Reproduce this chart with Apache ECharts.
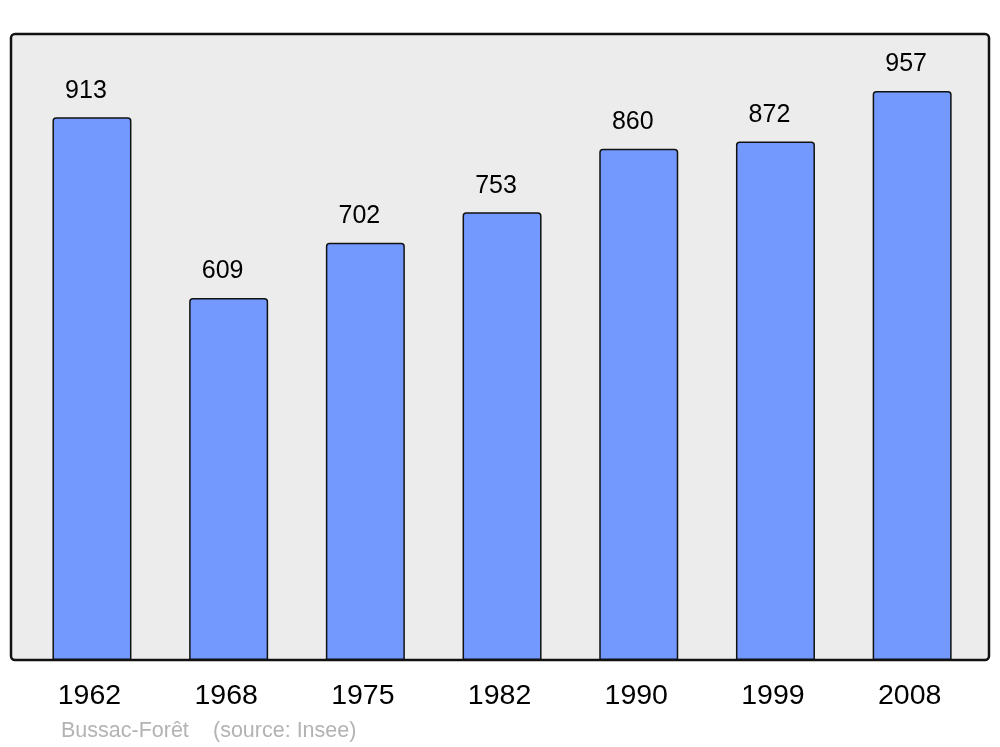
<!DOCTYPE html>
<html><head><meta charset="utf-8">
<script src="https://cdn.jsdelivr.net/npm/echarts@6/dist/echarts.min.js"></script>
<style>html,body{margin:0;padding:0;background:#fff;}#c{width:1000px;height:747px;}</style>
</head><body><div id="c"></div>
<script>
var years = ['1962','1968','1975','1982','1990','1999','2008'];
var population = [913, 609, 702, 753, 860, 872, 957];
var footerPlace = 'Bussac-Forêt';
var footerSource = '(source: Insee)';

var chart = echarts.init(document.getElementById('c'), null, {renderer:'canvas'});
chart.setOption({
  animation: false,
  backgroundColor: '#ffffff',
  textStyle: {fontFamily: 'Liberation Sans, Arial, sans-serif'},
  graphic: [
    {type:'rect', z: -10, shape:{x:11, y:34, width:978, height:626, r:4},
     style:{fill:'#ececec', stroke:'#111', lineWidth:2.5}},
    {type:'text', left: 61, top: 720, style:{text: footerPlace, fill:'#b3b3b3', font:'21.5px "Liberation Sans", Arial, sans-serif'}},
    {type:'text', left: 213, top: 720, style:{text: footerSource, fill:'#b3b3b3', font:'21.5px "Liberation Sans", Arial, sans-serif'}}
  ],
  grid: {left: 23.6, right: 19.5, top: 34, bottom: 87},
  xAxis: {
    type:'category', data: years,
    axisLine:{show:false}, axisTick:{show:false},
    axisLabel:{color:'#000', fontSize:28.5, margin:22, padding:[0,5,0,0], fontFamily:'Liberation Sans, Arial, sans-serif'}
  },
  yAxis: {type:'value', min:0, max:1053, show:false, splitLine:{show:false}},
  series: [{
    type:'bar', data: population, barWidth: 79,
    itemStyle:{color:'#7399ff', borderColor:'#111', borderWidth:1.5, borderRadius:[3,3,0,0]},
    label:{show:true, position:'top', distance:14, offset:[-6,0], color:'#000', fontSize:25,
      fontFamily:'Liberation Sans, Arial, sans-serif'}
  }]
});
</script></body></html>
